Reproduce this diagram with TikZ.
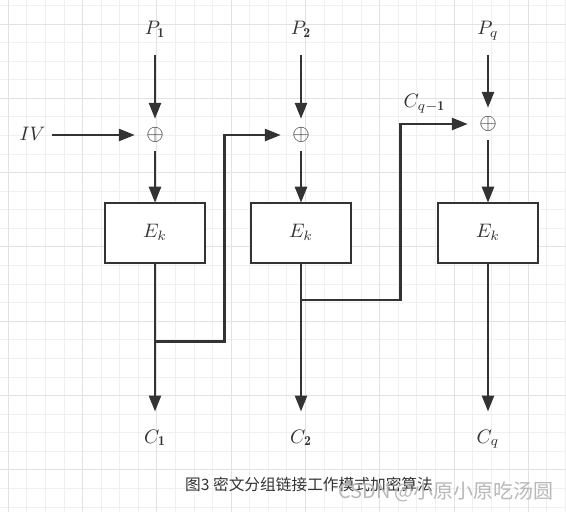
\RequirePackage{fix-cm}
\documentclass[tikz,border=0pt]{standalone}
\usepackage{amsmath}
\usepackage{amssymb}
\usepackage{graphicx}
\usepackage{fontspec}
\usepackage{tikz}
\usetikzlibrary{arrows.meta}
\newfontfamily\cjkfont{Noto Sans CJK SC}
\definecolor{ink}{HTML}{333333}
\definecolor{gminor}{HTML}{F0F0F0}
\definecolor{gmajor}{HTML}{E2E2E2}
\newcommand{\lab}[1]{\scalebox{1.95}{$#1$}}
\tikzset{
  lbl/.style={inner sep=0pt, text height=14pt, text depth=4pt, text=ink},
  xor/.style={rectangle, inner sep=0pt, minimum width=40pt, minimum height=32pt, text=ink},
  enc/.style={draw=ink, line width=2.4pt, fill=white, inner sep=0pt, outer sep=0pt,
    minimum width=100pt, minimum height=60pt, text=ink},
  flow/.style={draw=ink, line width=2.6pt, -{Triangle[length=16pt,width=12pt]}},
}

\begin{document}
\begin{tikzpicture}[x=1pt, y=-1pt]
    \fill [white] (0, 0) rectangle (566, 512);
    \useasboundingbox (0, 0) rectangle (566, 512);

    % grid
    \foreach \k in {0, ..., 30} {
      \draw [gminor, line width=1pt] (8.3 + 18.575 * \k, 0) -- +(0, 512);
    };
    \foreach \k in {0, ..., 27} {
      \draw [gminor, line width=1pt] (0, 5.5 + 18.575 * \k) -- +(566, 0);
    };
    \foreach \k in {0, ..., 7} {
      \draw [gmajor, line width=1pt] (8.3 + 74.3 * \k, 0) -- +(0, 512);
    };
    \foreach \k in {0, ..., 6} {
      \draw [gmajor, line width=1pt] (0, 24 + 74.3 * \k) -- +(566, 0);
    };

    % plaintext blocks
    \node [lbl, anchor=base] (p1) at (155, 34.3) {\lab{P_{\mathbf{1}}}};
    \node [lbl, anchor=base] (p2) at (301, 34.3) {\lab{P_{\mathbf{2}}}};
    \node [lbl, anchor=base] (p3) at (488, 34.3) {\lab{P_{q}}};

    \node [xor] (x1) at (155, 135) {\scalebox{2.25}{$\oplus$}};
    \node [xor] (x2) at (301, 135) {\scalebox{2.25}{$\oplus$}};
    \node [xor] (x3) at (488, 124) {\scalebox{2.25}{$\oplus$}};

    \node [enc] (e1) at (155, 232.7) {\lab{E_k}};
    \node [enc] (e2) at (301, 232.7) {\lab{E_k}};
    \node [enc] (e3) at (488, 232.7) {\lab{E_k}};

    \node [lbl, anchor=base] (c1) at (155, 443) {\lab{C_{\mathbf{1}}}};
    \node [lbl, anchor=base] (c2) at (301, 443) {\lab{C_{\mathbf{2}}}};
    \node [lbl, anchor=base] (c3) at (488, 443) {\lab{C_{q}}};

    \node [lbl, anchor=base] (iv) at (32.5, 140) {\lab{IV}};
    \node [lbl, anchor=base] (cq) at (424.5, 107.3) {\lab{C_{q-\mathbf{1}}}};

    \foreach \i in {1, 2, 3} {
      \draw [flow, shorten <=16pt] (p\i) -- (x\i);
      \draw [flow] (x\i) -- (e\i);
      \draw [flow, shorten >=17.3pt] (e\i) -- (c\i);
    };
    \draw [flow, shorten <=6.5pt] (iv) -- (x1);

    % chaining
    \coordinate (j1) at (155, 341.7);
    \coordinate (j2) at (301, 300);
    \draw [flow] (j1) -- (224.5, 341.7) |- (x2);
    \draw [flow] (j2) -- (400.7, 300) |- (x3);

    \node [font=\cjkfont\fontsize{15.7}{18}\selectfont, text=ink] (cap) at (309, 484)
      {图3 密文分组链接工作模式加密算法};
    \node [font=\cjkfont\fontsize{20}{24}\selectfont, text=black!28] (wm) at (446, 492)
      {CSDN @小原小原吃汤圆};
\end{tikzpicture}
\end{document}
